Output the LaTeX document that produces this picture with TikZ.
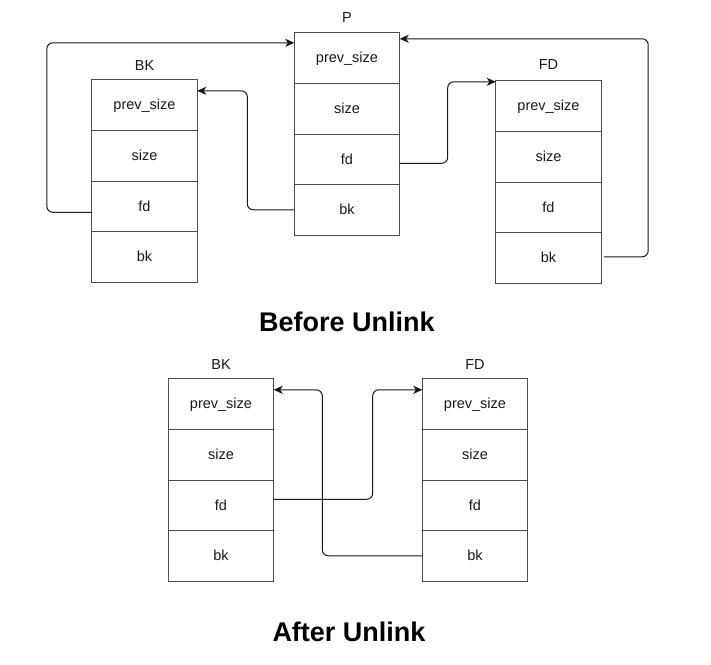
\documentclass[tikz,border=0pt]{standalone}
\usepackage{fontspec}
\setmainfont{Liberation Sans}
\usetikzlibrary{arrows.meta,calc}
\begin{document}
\begin{tikzpicture}[x=1pt,y=-1pt,
  cell/.style={minimum width=105pt,minimum height=50.5pt,inner sep=0pt,font=\fontsize{14.5}{16}\selectfont,text=black!90},
  border/.style={draw=black!70,line width=1.2pt},
  lbl/.style={font=\fontsize{14.5}{16}\selectfont,text=black!90},
  ttl/.style={font=\fontsize{27}{30}\selectfont\bfseries},
  arr/.style={draw=black!90,line width=1pt,rounded corners=6pt,-{Stealth[length=9pt,width=8pt,inset=2.5pt]}}]
\useasboundingbox (0,0) rectangle (711,664);
% ---------- Before Unlink ----------
% BK
\node[lbl] (tbk) at (144.5,66) {BK};
\node[cell] (bk1) at (144.5,105.25) {prev\_size};
\node[cell] (bk2) at (144.5,155.75) {size};
\node[cell] (bk3) at (144.5,206.25) {fd};
\node[cell] (bk4) at (144.5,256.75) {bk};
\draw[border] (bk1.north west) rectangle (bk4.south east);
\draw[border] (bk1.south west) -- (bk1.south east) (bk2.south west) -- (bk2.south east) (bk3.south west) -- (bk3.south east);
% P
\node[lbl] (tp) at (347,18) {P};
\node[cell] (p1) at (347,58.25) {prev\_size};
\node[cell] (p2) at (347,108.75) {size};
\node[cell] (p3) at (347,159.25) {fd};
\node[cell] (p4) at (347,209.75) {bk};
\draw[border] (p1.north west) rectangle (p4.south east);
\draw[border] (p1.south west) -- (p1.south east) (p2.south west) -- (p2.south east) (p3.south west) -- (p3.south east);
% FD
\node[lbl] (tfd) at (548.5,65) {FD};
\node[cell] (fd1) at (548.5,106.25) {prev\_size};
\node[cell] (fd2) at (548.5,156.75) {size};
\node[cell] (fd3) at (548.5,207.25) {fd};
\node[cell] (fd4) at (548.5,257.75) {bk};
\draw[border] (fd1.north west) rectangle (fd4.south east);
\draw[border] (fd1.south west) -- (fd1.south east) (fd2.south west) -- (fd2.south east) (fd3.south west) -- (fd3.south east);
% connectors
\draw[arr] ([yshift=-6pt]bk3.west) -- ++(-45,0) |- ([yshift=-10pt]p1.north west);
\draw[arr] (p4.west) -- ++(-47,0) |- ([yshift=-11pt]bk1.north east);
\draw[arr] ([yshift=-4pt]p3.east) -- ++(48,0) |- ([yshift=-1pt]fd1.north west);
\draw[arr] ([xshift=3pt,yshift=1pt]fd4.east) -- ++(44,0) |- ([yshift=-6pt]p1.north east);
\node[ttl] (before) at (347,322) {Before Unlink};
% ---------- After Unlink ----------
\node[lbl] (tbbk) at (221,365) {BK};
\node[cell] (b1) at (221,404.25) {prev\_size};
\node[cell] (b2) at (221,454.75) {size};
\node[cell] (b3) at (221,505.25) {fd};
\node[cell] (b4) at (221,555.75) {bk};
\draw[border] (b1.north west) rectangle (b4.south east);
\draw[border] (b1.south west) -- (b1.south east) (b2.south west) -- (b2.south east) (b3.south west) -- (b3.south east);
\node[lbl] (tbfd) at (475,365) {FD};
\node[cell] (f1) at (475,404.25) {prev\_size};
\node[cell] (f2) at (475,454.75) {size};
\node[cell] (f3) at (475,505.25) {fd};
\node[cell] (f4) at (475,555.75) {bk};
\draw[border] (f1.north west) rectangle (f4.south east);
\draw[border] (f1.south west) -- (f1.south east) (f2.south west) -- (f2.south east) (f3.south west) -- (f3.south east);
\draw[arr] ([yshift=6pt]b3.east) -- ++(99,0) |- ([yshift=-11pt]f1.north west);
\draw[arr] (f4.west) -- ++(-100,0) |- ([yshift=-11pt]b1.north east);
\node[ttl] (after) at (349,632) {After Unlink};
\end{tikzpicture}
\end{document}
